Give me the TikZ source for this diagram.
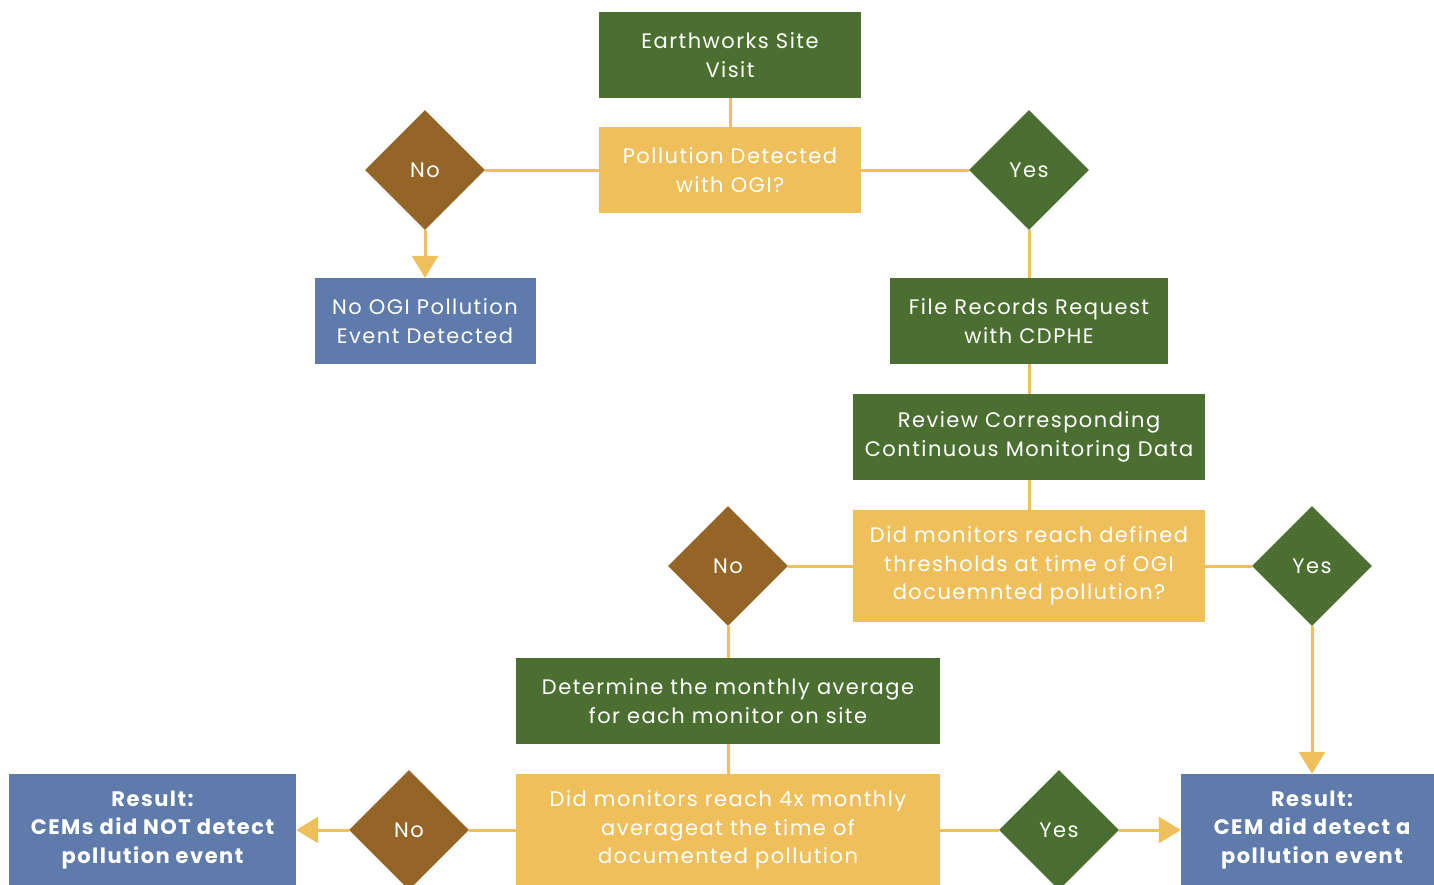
\documentclass[tikz,border=0pt]{standalone}
\usepackage{fontspec}
\setmainfont{Poppins}[LetterSpace=7]
\usetikzlibrary{shapes.geometric,arrows.meta}

\definecolor{grn}{HTML}{4B6F31}
\definecolor{yel}{HTML}{EEBF5B}
\definecolor{brn}{HTML}{956527}
\definecolor{blu}{HTML}{5F7BAC}

\begin{document}
\begin{tikzpicture}
		[x=1pt,y=-1pt,
		 b/.style= {rectangle,inner sep=0pt,text=white,align=center,font=\fontsize{21}{28.5}\selectfont},
		 g/.style= {b,fill=grn},
		 q/.style= {b,fill=yel},
		 r/.style= {b,fill=blu},
		 d/.style= {diamond,aspect=1,inner sep=0pt,minimum width=120pt,minimum height=120pt,text=white,font=\fontsize{21}{26}\selectfont},
		 l/.style= {draw=yel,line width=3pt},
		 a/.style= {l,-{Triangle[length=22pt,width=26pt]}},
		 ra/.style= {l,{Triangle[length=22pt,width=26pt]}-}]

		\useasboundingbox (0,0) rectangle (1434,884);
		\clip (0,0) rectangle (1434,884);

		\node[g,minimum width=262pt,minimum height=86pt] (visit) at (730,55) {Earthworks Site\\Visit};

		\node[q,minimum width=262pt,minimum height=86pt] (ogi) at (730,170) {Pollution Detected\\with OGI?}
			edge [l]	(visit)
		;

		\node[d,fill=brn] (no1) at (425,170) {No}
			edge [l]	(ogi)
		;

		\node[d,fill=grn] (yes1) at (1029,170) {Yes}
			edge [l]	(ogi)
		;

		\node[r,minimum width=221pt,minimum height=86pt] (noogi) at (425,321) {No OGI Pollution\\Event Detected}
			edge [ra]	(no1)
		;

		\node[g,minimum width=278pt,minimum height=86pt] (file) at (1029,321) {File Records Request\\with CDPHE}
			edge [l]	(yes1)
		;

		\node[g,minimum width=352pt,minimum height=86pt] (review) at (1029,437) {Review Corresponding\\Continuous Monitoring Data}
			edge [l]	(file)
		;

		\node[q,minimum width=352pt,minimum height=112pt] (thresh) at (1029,566) {Did monitors reach defined\\thresholds at time of OGI\\docuemnted pollution?}
			edge [l]	(review)
		;

		\node[d,fill=brn] (no2) at (728,566) {No}
			edge [l]	(thresh)
		;

		\node[d,fill=grn] (yes2) at (1312,566) {Yes}
			edge [l]	(thresh)
		;

		\node[g,minimum width=424pt,minimum height=86pt] (avg) at (728,701) {Determine the monthly average\\for each monitor on site}
			edge [l]	(no2)
		;

		\node[q,minimum width=424pt,minimum height=112pt] (four) at (728,830) {Did monitors reach 4x monthly\\averageat the time of\\documented pollution}
			edge [l]	(avg)
		;

		\node[d,fill=brn] (no3) at (409,830) {No}
			edge [l]	(four)
		;

		\node[d,fill=grn] (yes3) at (1059,830) {Yes}
			edge [l]	(four)
		;

		\node[r,font=\fontsize{21}{28.5}\selectfont\bfseries,minimum width=287pt,minimum height=112pt] (resno) at (152.5,830) {Result:\\CEMs did NOT detect\\pollution event}
			edge [ra]	(no3)
		;

		% box runs past the right edge so its text sits under the arrow
		\node[r,font=\fontsize{21}{28.5}\selectfont\bfseries,minimum width=262pt,minimum height=112pt] (resyes) at (1312,830) {Result:\\CEM did detect a\\pollution event}
			edge [ra]	(yes3)
		;

		\draw[a] (yes2) -- (yes2 |- resyes.north);

	\end{tikzpicture}
\end{document}
